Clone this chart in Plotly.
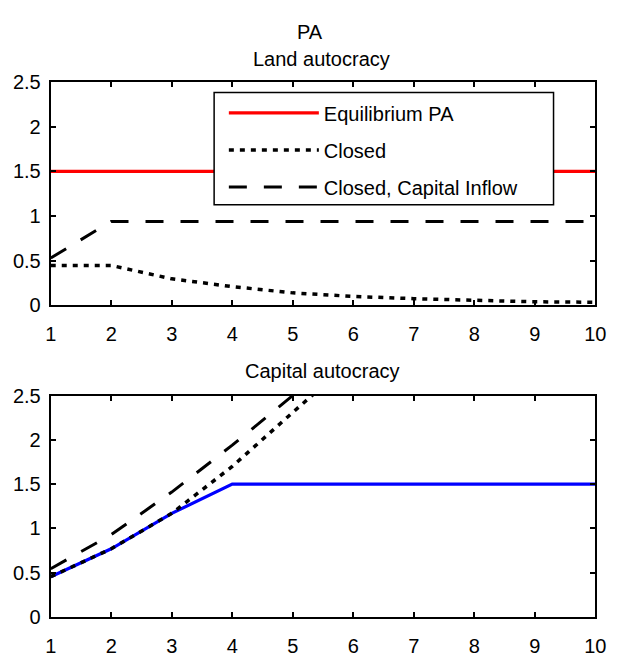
import plotly.graph_objects as go

periods = [1, 2, 3, 4, 5, 6, 7, 8, 9, 10]

# Land autocracy (top panel)
land_equilibrium = [1.5, 1.5, 1.5, 1.5, 1.5, 1.5, 1.5, 1.5, 1.5, 1.5]
land_closed = [0.447, 0.447, 0.297, 0.21, 0.14, 0.10, 0.075, 0.055, 0.04, 0.035]
land_inflow = [0.53, 0.94, 0.94, 0.94, 0.94, 0.94, 0.94, 0.94, 0.94, 0.94]

# Capital autocracy (bottom panel)
cap_equilibrium = [0.455, 0.77, 1.17, 1.5, 1.5, 1.5, 1.5, 1.5, 1.5, 1.5]
cap_closed = [0.455, 0.77, 1.17, 1.70, 2.31, 2.90, 3.5, 4.1, 4.7, 5.3]
cap_inflow = [0.545, 0.93, 1.41, 1.94, 2.50, 3.10, 3.7, 4.3, 4.9, 5.5]

y_ticks = [0, 0.5, 1, 1.5, 2, 2.5]
y_tick_text = ["0", "0.5", "1", "1.5", "2", "2.5"]

W, H = 619, 657
FONT = "Liberation Sans, Arial, sans-serif"
FS = 20

fig = go.Figure()

DOT = "5px,6px"
DASH = "18px,17px"

fig.add_trace(go.Scatter(x=periods, y=land_equilibrium, mode="lines", name="Equilibrium PA",
                         line=dict(color="#ff0000", width=3.2), xaxis="x", yaxis="y",
                         legendgroup="a"))
fig.add_trace(go.Scatter(x=periods, y=land_closed, mode="lines", name="Closed",
                         line=dict(color="black", width=3.5, dash=DOT), xaxis="x", yaxis="y",
                         legendgroup="b"))
fig.add_trace(go.Scatter(x=periods, y=land_inflow, mode="lines", name="Closed, Capital Inflow",
                         line=dict(color="black", width=3, dash=DASH), xaxis="x", yaxis="y",
                         legendgroup="c"))

fig.add_trace(go.Scatter(x=periods, y=cap_equilibrium, mode="lines", showlegend=False,
                         line=dict(color="#0000ff", width=3.2), xaxis="x2", yaxis="y2"))
fig.add_trace(go.Scatter(x=periods, y=cap_closed, mode="lines", showlegend=False,
                         line=dict(color="black", width=3.5, dash=DOT), xaxis="x2", yaxis="y2"))
fig.add_trace(go.Scatter(x=periods, y=cap_inflow, mode="lines", showlegend=False,
                         line=dict(color="black", width=3, dash=DASH), xaxis="x2", yaxis="y2"))

xdom = [46 / W, 606 / W]
axis_common = dict(showline=True, linecolor="black", linewidth=2, mirror="ticks",
                   ticks="inside", ticklen=5, tickwidth=1.5, tickcolor="black",
                   showgrid=False, zeroline=False,
                   tickfont=dict(family=FONT, size=FS, color="black"))

fig.update_layout(
    width=W, height=H,
    margin=dict(l=0, r=0, t=0, b=0),
    paper_bgcolor="white", plot_bgcolor="white",
    font=dict(family=FONT, size=FS, color="black"),
    xaxis=dict(domain=xdom, range=[1, 10], tickvals=periods, anchor="y",
               ticklabelstandoff=10, **axis_common),
    yaxis=dict(domain=[1 - 307 / H, 1 - 74 / H], range=[0, 2.5], tickvals=y_ticks,
               ticktext=y_tick_text, anchor="x", ticklabelstandoff=4, **axis_common),
    xaxis2=dict(domain=xdom, range=[1, 10], tickvals=periods, anchor="y2",
                ticklabelstandoff=10, **axis_common),
    yaxis2=dict(domain=[1 - 632 / H, 1 - 401 / H], range=[0, 2.5], tickvals=y_ticks,
                ticktext=y_tick_text, anchor="x2", ticklabelstandoff=4, **axis_common),
    legend=dict(x=224 / W, y=1 - 86 / H, xanchor="left", yanchor="top",
                bgcolor="rgba(0,0,0,0)", borderwidth=0,
                font=dict(family=FONT, size=FS, color="black"),
                itemwidth=90, traceorder="grouped", tracegroupgap=8,
                itemclick=False, itemdoubleclick=False),
    showlegend=True,
    shapes=[
        # legend frame (white box over the plot, as in the reference)
        dict(type="rect", xref="paper", yref="paper", layer="above",
             x0=214 / W, x1=563 / W, y0=1 - 202 / H, y1=1 - 85 / H,
             fillcolor="white", line=dict(color="black", width=1.5)),
    ],
    annotations=[
        dict(text="PA", x=313 / W, y=1 - 22 / H, xref="paper", yref="paper",
             xanchor="center", yanchor="middle", showarrow=False,
             font=dict(family=FONT, size=20, color="black")),
        dict(text="Land autocracy", x=324 / W, y=1 - 50 / H, xref="paper", yref="paper",
             xanchor="center", yanchor="middle", showarrow=False,
             font=dict(family=FONT, size=FS, color="black")),
        dict(text="Capital autocracy", x=325 / W, y=1 - 375 / H, xref="paper", yref="paper",
             xanchor="center", yanchor="middle", showarrow=False,
             font=dict(family=FONT, size=FS, color="black")),
    ],
)

fig.write_html("out.html", config={"displayModeBar": False},
               post_script="document.body.style.margin='0px';")
